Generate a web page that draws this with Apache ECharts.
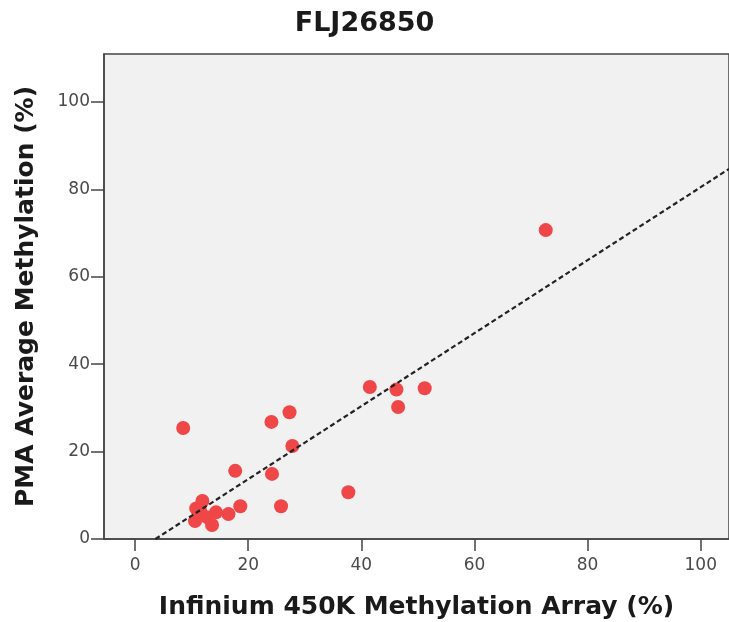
<!DOCTYPE html>
<html>
<head>
<meta charset="utf-8">
<script src="https://cdn.jsdelivr.net/npm/echarts@6/dist/echarts.min.js"></script>
<style>html,body{margin:0;padding:0;background:#fff}#c{width:729px;height:622px}</style>
</head>
<body>
<div id="c"></div>
<script>
const titleText = 'FLJ26850';
const xName = 'Infinium 450K Methylation Array (%)';
const yName = 'PMA Average Methylation (%)';
const tickValues = [0, 20, 40, 60, 80, 100];
const infiniumX = [72.6, 8.5, 41.5, 46.2, 51.2, 46.5, 24.1, 27.3, 27.8, 17.7, 24.2, 37.7, 25.8, 18.6, 16.5, 14.3, 11.9, 10.8, 12.7, 10.6, 13.6, 11.5];
const pmaY =      [70.7, 25.4, 34.8, 34.2, 34.5, 30.2, 26.8, 29.0, 21.3, 15.6, 14.9, 10.7, 7.5, 7.5, 5.7, 6.1, 8.7, 7.0, 5.0, 4.1, 3.2, 6.5];
const fitX = [3.6, 105];
const fitY = [0, 84.7];

const pts = infiniumX.map((x, i) => [x, pmaY[i]]);
const fit = fitX.map((x, i) => [x, fitY[i]]);
const font = 'DejaVu Sans';
const chart = echarts.init(document.getElementById('c'));
chart.setOption({
  animation: false,
  backgroundColor: '#fff',
  title: {text: titleText, left: 'center', top: 5, textStyle: {fontFamily: font, fontWeight: 'bold', fontSize: 27, color: '#1a1a1a'}},
  grid: {left: 104, top: 54, right: 0, bottom: 83, containLabel: false, outerBoundsMode: 'none', show: true, backgroundColor: '#f1f1f1', borderColor: '#444', borderWidth: 1.5},
  xAxis: {
    type: 'value', min: -5.5, max: 105,
    name: xName, nameLocation: 'middle', nameGap: 56,
    nameTextStyle: {fontFamily: font, fontWeight: 'bold', fontSize: 25, color: '#1a1a1a'},
    axisLine: {show: true, onZero: false, lineStyle: {color: '#444', width: 1.5}},
    axisTick: {show: true, length: 12, customValues: tickValues, lineStyle: {color: '#444', width: 1.5}},
    axisLabel: {customValues: tickValues, margin: 18, fontFamily: font, fontSize: 17, color: '#4a4a4a'},
    splitLine: {show: false}
  },
  yAxis: {
    type: 'value', min: 0, max: 111,
    name: yName, nameLocation: 'middle', nameGap: 65, nameRotate: 90,
    nameTextStyle: {fontFamily: font, fontWeight: 'bold', fontSize: 25, color: '#1a1a1a'},
    axisLine: {show: true, onZero: false, lineStyle: {color: '#444', width: 1.5}},
    axisTick: {show: true, length: 13, customValues: tickValues, lineStyle: {color: '#444', width: 1.5}},
    axisLabel: {customValues: tickValues, margin: 14, fontFamily: font, fontSize: 17, color: '#4a4a4a'},
    splitLine: {show: false}
  },
  series: [
    {type: 'line', data: fit, symbol: 'none', silent: true, z: 3,
     lineStyle: {color: '#222', width: 2.2, type: [5, 3]}},
    {type: 'scatter', data: pts, symbolSize: 14, z: 2,
     itemStyle: {color: '#ef4747', opacity: 1}}
  ]
});
</script>
</body>
</html>
